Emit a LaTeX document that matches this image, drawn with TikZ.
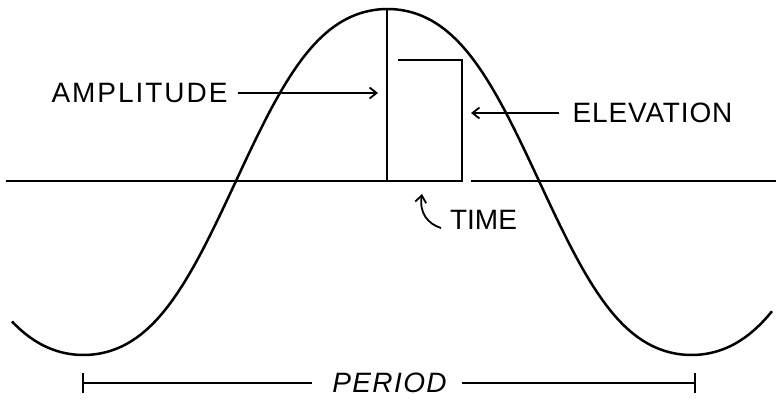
\documentclass[tikz,border=0pt]{standalone}
\usepackage{fontspec}
\setmainfont{Liberation Sans}
\usetikzlibrary{arrows.meta}
\begin{document}
\begin{tikzpicture}[x=1pt,y=-1pt,
  ln/.style={line width=2pt},
  curve/.style={line width=2.5pt},
  arr/.style={line width=1.8pt, -{Straight Barb[length=7pt,width=11pt,line width=1.8pt]}},
  lbl/.style={inner sep=0pt, font=\fontsize{28}{30}\selectfont}]
\useasboundingbox (0,0) rectangle (776,399);
% wave
\draw[curve] plot[domain=12:772, samples=240, smooth]
  (\x, {182-173*(1.05*cos((\x-387.5)*0.5921) - 0.05*cos((\x-387.5)*1.7763))});
% axis
\coordinate (ax0) at (6,181);
\coordinate (ax1) at (462,181);
\coordinate (ax2) at (471,181);
\coordinate (ax3) at (776,181);
\draw[ln] (ax0) -- (ax1);
\draw[ln] (ax2) -- (ax3);
% amplitude line and elevation box
\coordinate (peak) at (387,9);
\coordinate (base) at (387,181);
\coordinate (br) at (462,181);
\coordinate (tr) at (462,60);
\coordinate (tl) at (398,60);
\draw[ln] (peak) -- (base) -- (br) -- (tr) -- (tl);
% labels
\node[lbl] (amp) at (139.5,93) {\addfontfeature{LetterSpace=7}AMPLITUDE};
\coordinate (ampT) at (378,93);
\draw[arr, shorten <=10pt] (amp.east) -- (ampT);
\node[lbl] (elev) at (652.5,113) {\addfontfeature{LetterSpace=3}ELEVATION};
\coordinate (elevT) at (471,113);
\draw[arr, shorten <=13pt] (elev.west) -- (elevT);
\node[lbl] (time) at (483.5,220) {TIME};
\coordinate (timeS) at (441,228);
\coordinate (timeT) at (422,194);
\draw[arr] (timeS) .. controls (428,224) and (419,213) .. (timeT);
% period
\node[lbl, font=\fontsize{28}{30}\selectfont\itshape] (period) at (389.5,383) {\addfontfeature{LetterSpace=5}PERIOD};
\coordinate (pL) at (83,383);
\coordinate (pR) at (695,383);
\draw[ln] (pL) -- ([xshift=-20pt]period.west);
\draw[ln] ([xshift=15pt]period.east) -- (pR);
\draw[ln] (83,373) -- (83,393);
\draw[ln] (695,373) -- (695,393);
\end{tikzpicture}
\end{document}
